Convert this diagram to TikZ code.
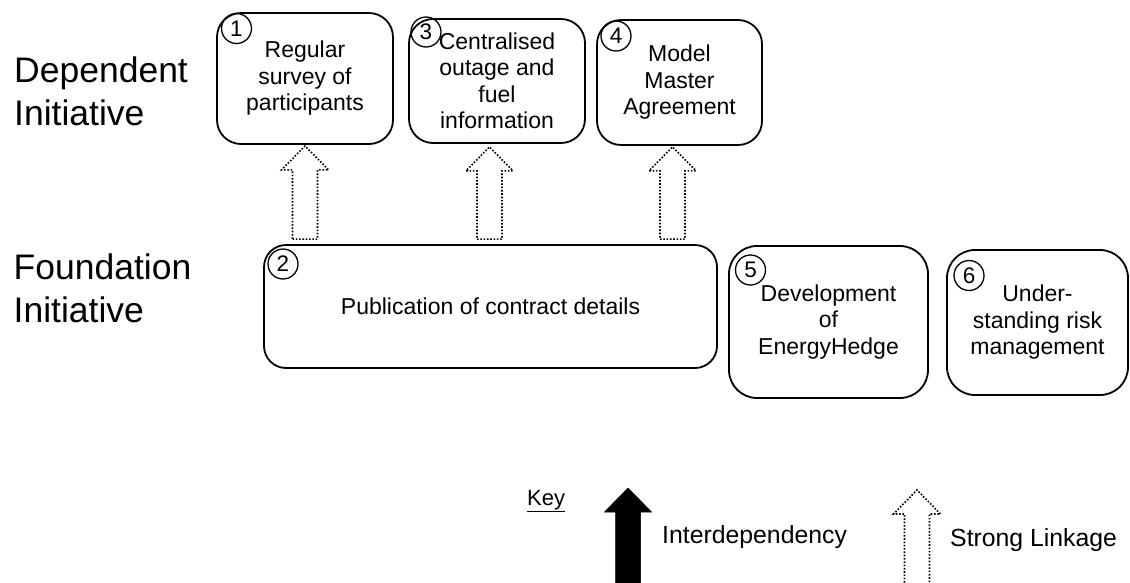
\documentclass[tikz,border=0pt]{standalone}
\usepackage{fontspec}
\setmainfont{Liberation Sans}
\usetikzlibrary{calc}

\tikzset{
  initbox/.style={draw, line width=1.8pt, rounded corners=24pt, align=center,
    inner sep=0pt, font=\fontsize{23}{26.5}\selectfont},
  numcirc/.style={draw, circle, line width=1.3pt, minimum size=30pt, inner sep=0pt,
    font=\fontsize{22.5}{22.5}\selectfont},
  rowlabel/.style={anchor=west, align=left, inner sep=0pt,
    font=\fontsize{35.5}{43}\selectfont},
  keytext/.style={anchor=base west, inner sep=0pt, font=\fontsize{24.8}{28}\selectfont},
  linkage/.style={draw, line width=1.6pt, dash pattern=on 1.6pt off 1.7pt},
  interdep/.style={fill=black, draw=black, line width=0.5pt},
}

% block arrow from a base point (#2) up to a tip point (#3)
\newcommand\blockarrow[3]{%
  \path[#1] let \p1=(#2), \p2=(#3) in
    (\x1-12.5pt,\y1) -- (\x1+12.5pt,\y1) -- (\x1+12.5pt,\y2-24pt)
    -- (\x1+23.5pt,\y2-24pt) -- (\x2,\y2) -- (\x1-23.5pt,\y2-24pt)
    -- (\x1-12.5pt,\y2-24pt) -- cycle;}

\begin{document}
\begin{tikzpicture}[x=1pt, y=-1pt]
  \useasboundingbox (0,0) rectangle (1130,582);
  \clip (0,0) rectangle (1130,582);

  % row labels
  \node[rowlabel] (dep) at (14,91.5) {Dependent\\Initiative};
  \node[rowlabel] (fnd) at (13.5,288.5) {Foundation\\Initiative};

  % dependent initiatives
  \node[initbox, minimum width=176pt, minimum height=131pt] (b1) at (305,78.5)
    {Regular\\survey of\\participants};
  \node[initbox, minimum width=176pt, minimum height=124pt] (b3) at (497,81)
    {Centralised\\outage and\\fuel\\information};
  \node[initbox, minimum width=165pt, minimum height=125pt] (b4) at (679.5,82.5)
    {Model\\Master\\Agreement};

  % foundation initiatives
  \node[initbox, rounded corners=22pt, minimum width=453pt, minimum height=123pt] (b2) at (490.5,306.5)
    {Publication of contract details};
  \node[initbox, rounded corners=28pt, minimum width=199pt, minimum height=152pt] (b5) at (828.5,322)
    {\raisebox{-2pt}{\parbox{190pt}{\centering Development\\of\\EnergyHedge}}};
  \node[initbox, rounded corners=28pt, minimum width=181pt, minimum height=145pt] (b6) at (1037.5,322.5)
    {\raisebox{-2pt}{\parbox{170pt}{\centering Under-\\standing risk\\management}}};

  % initiative numbers
  \node[numcirc] (c1) at (236.5,28.5) {1};
  \node[numcirc] (c3) at (426,32) {3};
  \node[numcirc] (c4) at (616,36) {4};
  \node[numcirc] (c2) at (283,264) {2};
  \node[numcirc] (c5) at (750.5,270) {5};
  \node[numcirc] (c6) at (969,275.5) {6};

  % strong linkages from the foundation initiative
  \blockarrow{linkage}{$(b1.south |- b2.north)+(0,-5)$}{$(b1.south)+(0,1)$}
  \blockarrow{linkage}{$(b3.south |- b2.north)+(-7.5,-5)$}{$(b3.south)+(-7.5,3)$}
  \blockarrow{linkage}{$(b4.south |- b2.north)+(-7,-5)$}{$(b4.south)+(-7,1)$}

  % key
  \node[anchor=base west, inner sep=0pt, font=\fontsize{22}{24}\selectfont] (key) at (527,505)
    {\underline{Key}};
  \coordinate (keyAtip) at (628,488);
  \coordinate (keyAbase) at (628,600);
  \coordinate (keyBtip) at (917,490);
  \coordinate (keyBbase) at (917,600);
  \blockarrow{interdep}{keyAbase}{keyAtip}
  \blockarrow{linkage}{keyBbase}{keyBtip}
  \node[keytext] (lblA) at (662,543) {Interdependency};
  \node[keytext] (lblB) at (950,546) {Strong Linkage};
\end{tikzpicture}
\end{document}
